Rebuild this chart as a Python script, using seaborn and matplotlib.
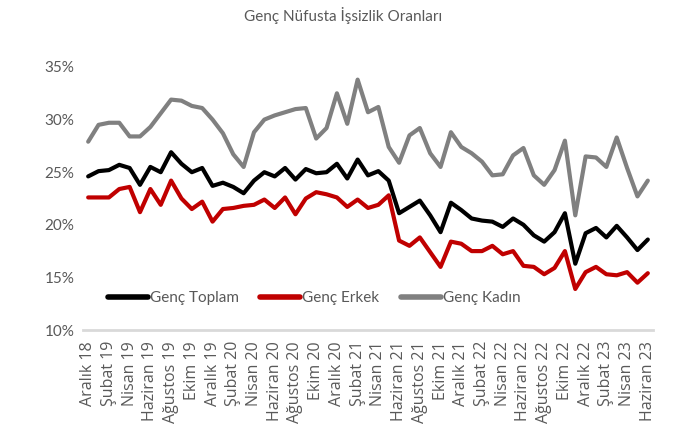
import numpy as np
import pandas as pd
import matplotlib
matplotlib.use("Agg")
import matplotlib.pyplot as plt
import seaborn as sns

tick_labels = ["Aralık 18", "Şubat 19", "Nisan 19", "Haziran 19", "Ağustos 19", "Ekim 19",
               "Aralık 19", "Şubat 20", "Nisan 20", "Haziran 20", "Ağustos 20", "Ekim 20",
               "Aralık 20", "Şubat 21", "Nisan 21", "Haziran 21", "Ağustos 21", "Ekim 21",
               "Aralık 21", "Şubat 22", "Nisan 22", "Haziran 22", "Ağustos 22", "Ekim 22",
               "Aralık 22", "Şubat 23", "Nisan 23", "Haziran 23"]

genc_toplam = [24.6, 25.1, 25.2, 25.7, 25.4, 23.8, 25.5, 25.0, 26.9, 25.8, 25.0, 25.4, 23.7, 24.0,
               23.6, 23.0, 24.2, 25.0, 24.6, 25.4, 24.3, 25.3, 24.9, 25.0, 25.8, 24.4, 26.2, 24.7,
               25.1, 24.2, 21.1, 21.7, 22.3, 20.9, 19.3, 22.1, 21.4, 20.6, 20.4, 20.3, 19.8, 20.6,
               20.0, 19.0, 18.4, 19.3, 21.1, 16.3, 19.2, 19.7, 18.8, 19.9, 18.8, 17.6, 18.6]
genc_erkek = [22.6, 22.6, 22.6, 23.4, 23.6, 21.2, 23.4, 21.9, 24.2, 22.5, 21.5, 22.2, 20.3, 21.5,
              21.6, 21.8, 21.9, 22.4, 21.6, 22.6, 21.0, 22.5, 23.1, 22.9, 22.6, 21.7, 22.4, 21.6,
              21.9, 22.8, 18.5, 18.0, 18.8, 17.4, 16.0, 18.4, 18.2, 17.5, 17.5, 18.0, 17.2, 17.5,
              16.1, 16.0, 15.3, 15.9, 17.5, 13.9, 15.5, 16.0, 15.3, 15.2, 15.5, 14.5, 15.4]
genc_kadin = [27.9, 29.5, 29.7, 29.7, 28.4, 28.4, 29.3, 30.6, 31.9, 31.8, 31.3, 31.1, 30.0, 28.7,
              26.7, 25.5, 28.8, 30.0, 30.4, 30.7, 31.0, 31.1, 28.2, 29.2, 32.5, 29.6, 33.8, 30.7,
              31.2, 27.4, 25.9, 28.5, 29.2, 26.8, 25.5, 28.8, 27.4, 26.8, 26.0, 24.7, 24.8, 26.6,
              27.3, 24.7, 23.8, 25.2, 28.0, 20.9, 26.5, 26.4, 25.5, 28.3, 25.4, 22.7, 24.2]

series_names = ["Genç Toplam", "Genç Erkek", "Genç Kadın"]
colors = ["#000000", "#C00000", "#808080"]

n = len(genc_toplam)
df = pd.DataFrame({
    "ay": list(range(n)) * 3,
    "oran": genc_toplam + genc_erkek + genc_kadin,
    "seri": [series_names[0]] * n + [series_names[1]] * n + [series_names[2]] * n,
})

sns.set_style("white")
plt.rcParams["font.family"] = ["Lato", "DejaVu Sans"]

fig = plt.figure(figsize=(6.82, 4.32), dpi=100)
ax = fig.add_axes([83 / 682, 1 - 330 / 432, 570 / 682, 263 / 432])

sns.lineplot(data=df, x="ay", y="oran", hue="seri", hue_order=series_names,
             palette=colors, linewidth=3.0, ax=ax, legend=True)

txt = "#595959"
ax.set_xlim(-0.5, n - 0.5)
ax.set_ylim(10, 35)
ax.set_yticks([10, 15, 20, 25, 30, 35])
ax.set_yticklabels([f"{v}%" for v in [10, 15, 20, 25, 30, 35]], color=txt, fontsize=11)
ax.tick_params(axis="y", length=0, pad=6)

label_pos = list(range(0, n, 2))
ax.set_xticks(label_pos)
ax.set_xticklabels(tick_labels, rotation=90, color=txt, fontsize=11.5,
                   family=["Open Sans", "DejaVu Sans"])
ax.tick_params(axis="x", which="major", length=0, pad=8)
ax.set_xticks([p - 0.5 for p in label_pos], minor=True)
ax.tick_params(axis="x", which="minor", length=5, width=1.5, color="#d9d9d9", direction="out")

for s in ["top", "right", "left"]:
    ax.spines[s].set_visible(False)
ax.spines["bottom"].set_color("#d9d9d9")
ax.spines["bottom"].set_linewidth(2)
ax.set_xlabel("")
ax.set_ylabel("")
ax.grid(False)

leg = ax.legend(loc="center left", bbox_to_anchor=(0.044, 0.122), ncol=3, frameon=False,
                fontsize=11, handlelength=2.6, handletextpad=0.15, columnspacing=1.4,
                borderpad=0, borderaxespad=0)
for t in leg.get_texts():
    t.set_color(txt)
for l in leg.get_lines():
    l.set_linewidth(4)
    l.set_solid_capstyle("round")

fig.text(343 / 682, 1 - 15 / 432, "Genç Nüfusta İşsizlik Oranları", ha="center", va="center",
         color=txt, fontsize=11)

fig.savefig("out.png", dpi=100)
